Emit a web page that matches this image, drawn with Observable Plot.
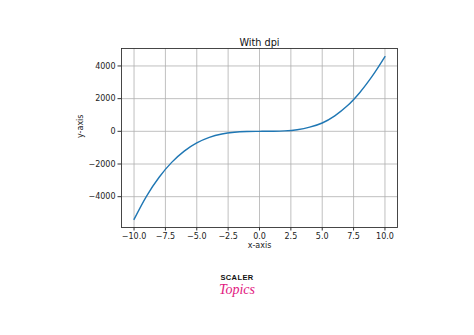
<!DOCTYPE html>
<html>
<head>
<meta charset="utf-8">
<script src="https://cdn.jsdelivr.net/npm/d3@7"></script>
<script src="https://cdn.jsdelivr.net/npm/@observablehq/plot@0.6"></script>
<style>
  html, body { margin: 0; padding: 0; background: #fff; width: 474px; height: 335px; overflow: hidden; }
  #wrap { position: relative; width: 474px; height: 335px; }
  #logo .s { font-family: "Liberation Sans", Arial, sans-serif; font-weight: bold; font-size: 7.5px; line-height: 1; letter-spacing: 0.4px; color: #111; position: absolute; left: 0; width: 474px; top: 274px; text-align: center; }
  #logo .t { font-family: "Liberation Serif", serif; font-style: italic; font-size: 14px; line-height: 1; color: #e2187f; position: absolute; left: 0; width: 474px; top: 283px; text-align: center; }
</style>
</head>
<body>
<div id="wrap">
  <div id="chart"></div>
  <div id="logo"><div class="s">SCALER</div><div class="t">Topics</div></div>
</div>
<script>
const titleText = ["With dpi"];
const xLabel = ["x-axis"];
const yLabel = ["y-axis"];
const xTicks = [-10, -7.5, -5, -2.5, 0, 2.5, 5, 7.5, 10];
const yTicks = [-4000, -2000, 0, 2000, 4000];
const xValues = [-10, -9, -8, -7, -6, -5, -4, -3, -2, -1, 0, 1, 2, 3, 4, 5, 6, 7, 8, 9, 10];
const yValues = [-5390, -3960, -2810, -1900, -1210, -710, -370, -165, -55, -8, 0, 2, 25, 100, 255, 510, 950, 1560, 2380, 3390, 4570];

const data = xValues.map((x, i) => ({x, y: yValues[i]}));

const chart = Plot.plot({
  width: 474,
  height: 335,
  marginLeft: 121,
  marginRight: 77,
  marginTop: 48,
  marginBottom: 108,
  style: {fontFamily: "DejaVu Sans, sans-serif", fontSize: "8px", color: "#222", background: "#fff"},
  x: {domain: [-11, 11]},
  y: {domain: [-5886, 5069]},
  marks: [
    Plot.gridX(xTicks, {stroke: "#b0b0b0", strokeOpacity: 1, strokeWidth: 0.8}),
    Plot.gridY(yTicks, {stroke: "#b0b0b0", strokeOpacity: 1, strokeWidth: 0.8}),
    Plot.axisX(xTicks, {tickSize: 3.5, tickPadding: 2.5, tickFormat: d3.format(".1f"), label: null, stroke: "#333"}),
    Plot.axisY(yTicks, {tickSize: 3.5, tickPadding: 2.5, tickFormat: d3.format("d"), label: null, stroke: "#333"}),
    Plot.line(data, {x: "x", y: "y", stroke: "#1f77b4", strokeWidth: 1.4, curve: "catmull-rom"}),
    Plot.frame({stroke: "#333", strokeWidth: 0.9}),
    Plot.text(titleText, {text: d => d, frameAnchor: "top", dy: -9, fontSize: 9.7, fill: "#111"}),
    Plot.text(xLabel, {text: d => d, frameAnchor: "bottom", dy: 20, fontSize: 8, fill: "#222"}),
    Plot.text(yLabel, {text: d => d, frameAnchor: "left", dx: -41, rotate: -90, fontSize: 8, fill: "#222"})
  ]
});
document.getElementById("chart").appendChild(chart);
</script>
</body>
</html>
